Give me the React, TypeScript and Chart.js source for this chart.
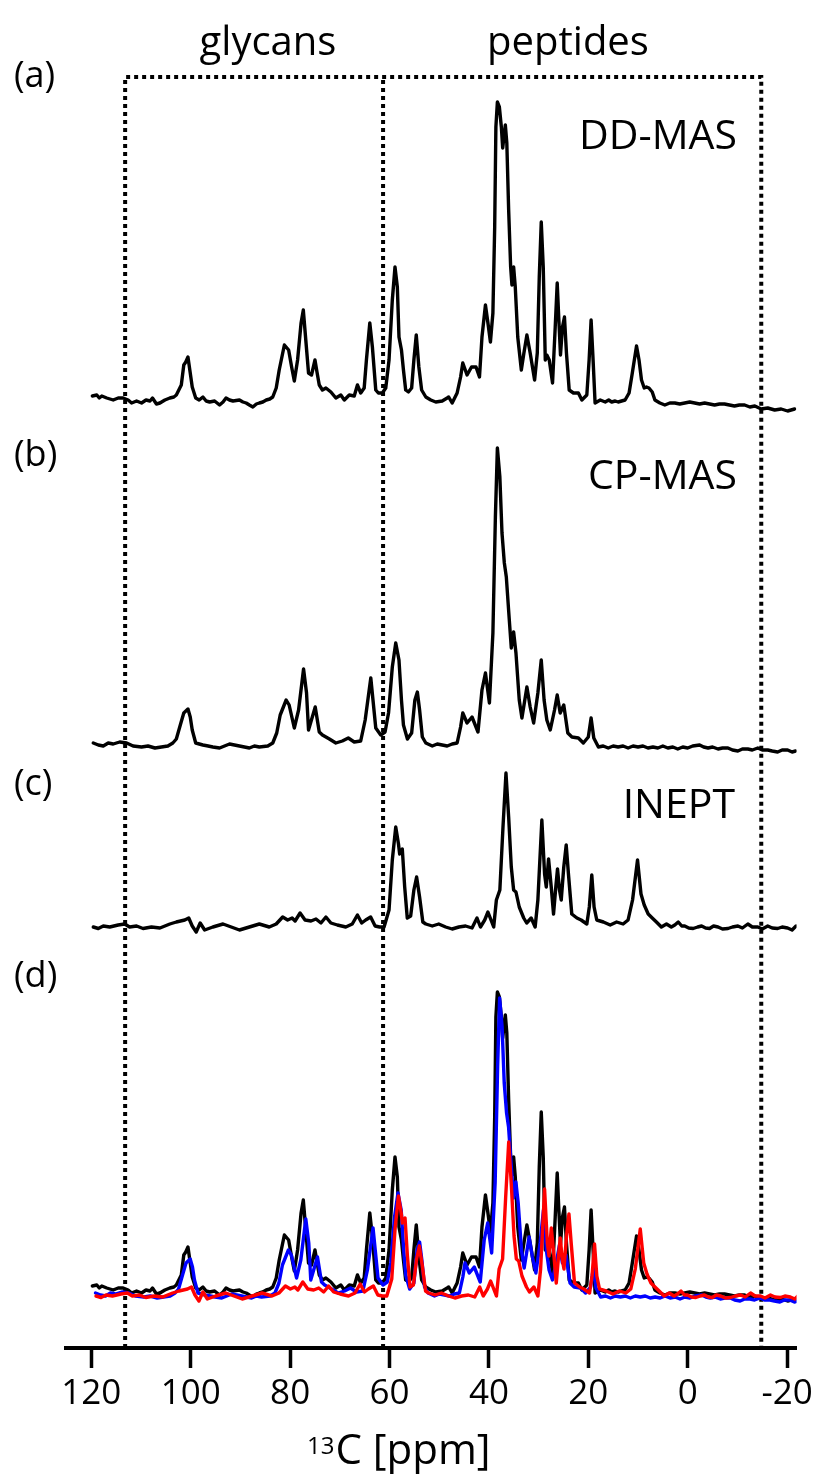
import { useEffect, useRef } from "react";
import { Chart, registerables } from "chart.js";

Chart.register(...registerables);

// ---------- axis ----------
const X_TICKS = [120, 100, 80, 60, 40, 20, 0, -20];
const X_MIN = -21.9;
const X_MAX = 125.1;
const Y_MAX = 1348;

// dotted frame (ppm positions) and its top level
const FRAME_OUTER_PPM = [113.2, -14.8];
const FRAME_MIDDLE_PPM = 61.3;
const FRAME_TOP = 1271;

// ---------- texts ----------
const PANEL_LABELS = ["(a)", "(b)", "(c)", "(d)"];
const EXPERIMENTS = ["DD-MAS", "CP-MAS", "INEPT"];
const REGIONS = ["glycans", "peptides"];
const AXIS_TITLE_SUP = "13";
const AXIS_TITLE = "C [ppm]";

// ---------- spectra: [ppm, intensity] ----------
const DD_MAS: [number, number][] = [
  [119.8, 4], [118.9, 5], [118.4, 2], [117.9, 4], [116.9, 2], [115.6, 0], [114.6, 2], [113.6, 2], [112.6, 0], [111.9, -3],
  [110.9, -1], [109.9, -3], [109.0, 0], [108.2, -1], [107.7, 2], [106.9, -4], [106.2, -3], [105.2, 0], [104.2, 2], [103.4, 3],
  [102.9, 5], [101.9, 15], [101.4, 35], [101.0, 38], [100.56, 43], [100.1, 27], [99.7, 13], [99.0, 2], [98.3, 0], [97.55, 3],
  [96.9, -1], [96.2, -2], [95.2, -1], [94.2, -5], [93.5, -2], [92.9, 2], [92.2, 0], [91.5, -1], [90.2, 0], [89.5, -2],
  [88.85, -3], [88.2, -5], [87.5, -7], [86.8, -4], [86.2, -3], [85.5, -2], [84.8, 0], [84.1, 1], [83.5, 3], [82.8, 12],
  [82.2, 30], [81.16, 55], [80.3, 50], [79.7, 33], [79.16, 19], [78.5, 40], [77.8, 77], [77.35, 90], [76.8, 57], [76.3, 27],
  [75.7, 25], [75.0, 40], [74.6, 28], [74.14, 15], [73.5, 10], [72.8, 12], [71.8, 8], [70.8, 2], [69.8, 5], [69.1, 0],
  [68.1, 5], [67.1, 4], [66.46, 15], [65.8, 7], [65.1, 12], [64.65, 40], [63.97, 77], [63.45, 53], [62.77, 10], [62.25, 7],
  [61.45, 7], [60.76, 12], [60.1, 40], [59.44, 100], [58.9, 133], [58.43, 113], [58.1, 63], [57.6, 50], [57.2, 30], [56.75, 10],
  [56.2, 8], [55.55, 12], [55.1, 40], [54.62, 65], [54.1, 33], [53.54, 10], [52.7, 3], [51.7, 0], [50.7, -2], [49.4, -1],
  [48.4, 2], [48.1, 3], [47.4, -3], [46.4, 7], [45.7, 23], [45.26, 37], [44.4, 25], [43.5, 33], [42.6, 33], [41.9, 23],
  [41.4, 63], [40.7, 95], [40.2, 77], [39.7, 58], [39.2, 87], [38.84, 173], [38.6, 273], [38.3, 298], [37.9, 293], [37.5, 273],
  [37.23, 252], [36.7, 275], [36.4, 257], [36.03, 190], [35.63, 133], [35.37, 115], [35.03, 133], [34.7, 113], [34.2, 63], [33.48, 30],
  [32.96, 47], [32.36, 65], [31.7, 47], [30.81, 20], [30.27, 47], [29.87, 123], [29.47, 178], [29.07, 133], [28.66, 40], [28.35, 45],
  [27.86, 40], [27.2, 17], [26.66, 73], [26.26, 117], [25.93, 80], [25.6, 45], [25.2, 73], [24.8, 83], [24.4, 47], [23.85, 10],
  [23.0, 7], [22.0, 7], [21.3, 0], [20.3, 5], [19.84, 40], [19.44, 80], [19.04, 40], [18.64, -3], [17.6, 0], [16.6, -2],
  [15.9, 0], [15.3, -2], [14.6, -1], [14.0, -2], [13.3, -1], [12.6, 0], [11.8, 7], [11.15, 27], [10.3, 54], [9.8, 40],
  [9.3, 20], [8.75, 12], [8.3, 13], [7.8, 12], [7.14, 8], [6.6, 0], [5.6, -3], [4.6, -5], [3.6, -3], [2.6, -3],
  [1.6, -4], [0.6, -3], [-0.4, -2], [-1.4, -3], [-2.4, -4], [-3.4, -3], [-4.4, -4], [-5.4, -5], [-6.4, -4], [-7.4, -4],
  [-8.4, -5], [-9.4, -6], [-10.4, -5], [-11.45, -5], [-12.5, -7], [-13.5, -6], [-14.8, -9], [-16.1, -8], [-17.5, -10], [-18.8, -9],
  [-20.1, -11], [-21.5, -9],
];

const CP_MAS: [number, number][] = [
  [119.6, 2], [118.6, 0], [117.6, -1], [116.6, 2], [115.6, 1], [114.3, 3], [112.9, 2], [111.6, -1], [109.9, -2], [108.6, -1],
  [107.2, -3], [105.9, -2], [104.6, -1], [103.6, 2], [102.9, 6], [102.1, 20], [101.4, 32], [100.56, 36], [100.1, 28], [99.7, 15],
  [99.0, 2], [97.55, 0], [96.5, -1], [95.55, -2], [94.2, -3], [93.2, -1], [92.2, 1], [91.2, 0], [90.2, -1], [89.2, -2],
  [88.2, -3], [87.2, -1], [86.2, -2], [84.5, -1], [83.5, 2],
  [82.7, 12], [82.0, 30], [80.8, 45], [80.2, 40], [79.16, 17], [78.3, 35], [77.3, 76], [76.7, 52], [76.3, 15], [74.95, 38],
  [74.14, 13], [73.5, 10], [72.1, 6], [70.8, 2], [69.5, 4], [68.3, 7], [67.1, 3], [65.8, 4], [64.9, 25], [63.77, 67],
  [62.77, 17], [61.77, 10], [60.9, 13], [60.2, 32], [59.44, 78], [58.75, 102], [58.1, 85], [57.6, 45], [57.2, 20], [56.4, 6],
  [55.55, 12], [54.9, 45], [54.4, 53], [53.95, 35], [53.4, 8], [52.7, 2], [51.4, -1], [50.4, 1], [49.4, 0], [48.4, -1], [47.4, 1], [46.4, 2],
  [45.7, 18], [45.26, 32], [44.4, 22], [43.4, 28], [42.2, 13], [41.4, 55], [40.7, 72], [39.9, 42], [39.2, 112], [38.7, 228],
  [38.3, 297], [37.8, 268], [37.37, 212], [36.9, 182], [36.5, 168], [36.0, 132], [35.5, 97], [35.03, 113], [34.56, 92], [33.9, 45],
  [33.36, 27], [32.36, 58], [31.7, 38], [31.0, 22], [30.15, 52], [29.47, 85], [28.9, 45], [28.35, 25], [27.66, 15], [26.8, 35],
  [26.26, 50], [25.66, 32], [24.94, 40], [24.13, 12], [23.3, 8], [22.0, 7], [21.0, 2], [20.0, 8], [19.44, 27], [18.9, 7],
  [17.97, -2], [17.0, -1], [16.0, -3], [15.0, -1], [14.0, -2], [13.0, -1], [12.0, -3], [11.0, -1], [10.0, -2], [9.0, -1],
  [8.0, -3], [7.0, -2], [6.0, -3], [5.0, -1], [4.0, -3], [3.0, -2], [2.0, -4], [1.0, -2], [0.0, -3], [-1.0, -1],
  [-2.4, 0], [-3.2, -2], [-4.1, -3], [-5.0, -2], [-6.1, -4], [-7.0, -3], [-8.1, -3], [-9.0, -5], [-10.1, -6], [-11.0, -4],
  [-12.1, -4], [-13.0, -5], [-14.1, -3], [-15.0, -5], [-16.1, -5], [-17.0, -6], [-18.1, -7], [-19.0, -5], [-20.1, -5], [-21.0, -7],
  [-21.7, -6],
];

const INEPT: [number, number][] = [
  [119.6, 0], [118.6, -1.5], [117.6, 1], [116.3, 0], [114.6, 2], [113.3, 3], [112.3, 0], [110.9, 1], [109.6, -1.5], [107.9, 0],
  [106.2, -1], [104.2, 3], [102.9, 5], [101.2, 7], [100.4, 9], [99.7, 1], [98.9, -5], [98.1, 4], [97.2, -3], [95.55, 0],
  [93.5, 3], [91.85, 0], [90.2, -3], [88.2, 0], [86.2, 3], [84.2, 0], [82.8, 3], [81.5, 10], [80.5, 7], [79.6, 9],
  [79.0, 6], [78.0, 14], [77.0, 7], [75.8, 6], [74.8, 8], [73.8, 4], [72.8, 10], [71.8, 4], [70.5, 2], [68.8, 0],
  [67.5, 3], [66.46, 12], [65.6, 4], [64.8, 7], [63.8, 10], [62.9, 1], [62.0, 0], [61.1, 0], [60.1, 17], [59.44, 67],
  [58.75, 100], [58.2, 83], [57.96, 73], [57.43, 78], [56.95, 40], [56.43, 9], [55.75, 11], [55.1, 37], [54.55, 50], [53.95, 30],
  [53.3, 5], [52.7, 3], [51.4, 1], [50.1, 3], [48.7, 0], [47.4, -2], [46.05, 0], [44.7, 1], [43.4, -1], [42.4, 9],
  [41.7, 0], [40.85, 7], [40.2, 15], [39.04, 0], [38.5, 27], [37.8, 37], [37.17, 100], [36.57, 154], [36.03, 110], [35.5, 60],
  [35.03, 37], [34.56, 35], [33.9, 20], [33.0, 9], [32.4, 4], [31.5, 9], [30.7, 0], [30.15, 27], [29.35, 107], [28.8, 53],
  [28.46, 40], [28.0, 68], [27.46, 40], [27.0, 13], [26.54, 40], [26.2, 58], [25.8, 37], [25.45, 27], [24.94, 60], [24.45, 82],
  [24.0, 53], [23.33, 13], [22.3, 9], [21.45, 7], [20.3, 3], [19.8, 20], [19.3, 52], [18.84, 20], [18.3, 7], [16.97, 5],
  [15.6, 2], [14.3, 5], [13.0, 3], [12.0, 7], [11.1, 27], [10.1, 67], [9.4, 33], [8.75, 22], [7.95, 13], [7.14, 9],
  [6.3, 5], [5.3, 0], [4.27, 3], [3.3, 0], [2.6, 2], [1.9, 5], [1.2, 1], [0.6, 1], [-0.2, -1], [-1.1, -1.5],
  [-2.0, 0], [-2.8, 1], [-3.6, -1], [-4.4, -1.5], [-5.2, 1], [-6.1, 0], [-7.0, -2], [-8.1, -1.5], [-9.0, 0], [-10.1, 1],
  [-11.0, -1], [-12.1, 3], [-13.0, 0], [-14.1, 0], [-15.0, -2], [-16.1, 1], [-17.0, -1], [-18.1, -1.5], [-19.0, 0], [-20.1, -1],
  [-21.0, -3], [-21.8, 1],
];

// ---------- layout / style (not data) ----------
const OFFSET_A = 948;
const OFFSET_B = 603;
const OFFSET_C = 421;
const OFFSET_D_BLACK = 58;
const OFFSET_D_BLUE = 53;
const OFFSET_D_RED = 52;
const SHIFT_D_BLUE = -0.45;
const SHIFT_D_RED = -0.55;

const TEXT_FONT = '"Open Sans", "Noto Sans", sans-serif';
const TICK_FONT = '"Open Sans", "Noto Sans", sans-serif';

function toPoints(spec: [number, number][], offset: number, shift = 0) {
  return spec.map(([p, v]) => ({ x: p + shift, y: v + offset }));
}

function spectrumDataset(spec: [number, number][], offset: number, color: string, order: number, shift = 0) {
  return {
    data: toPoints(spec, offset, shift),
    borderColor: color,
    borderWidth: 3.4,
    pointRadius: 0,
    fill: false,
    tension: 0,
    borderJoinStyle: "round" as const,
    borderCapStyle: "round" as const,
    order,
  };
}

const textPlugin = {
  id: "figureText",
  afterDraw(chart: any) {
    const ctx = chart.ctx as CanvasRenderingContext2D;
    ctx.save();
    ctx.fillStyle = "#000";
    ctx.textBaseline = "alphabetic";

    // region headers
    ctx.font = `40px ${TEXT_FONT}`;
    ctx.textAlign = "center";
    ctx.fillText(REGIONS[0], 268, 55);
    ctx.fillText(REGIONS[1], 568, 55);

    // panel letters
    ctx.font = `36px ${TEXT_FONT}`;
    ctx.textAlign = "left";
    const panelY = [87, 466, 795, 987];
    PANEL_LABELS.forEach((t, i) => ctx.fillText(t, 14, panelY[i]));

    // experiment names
    ctx.font = `41px ${TEXT_FONT}`;
    ctx.textAlign = "right";
    ctx.fillText(EXPERIMENTS[0], 737, 149);
    ctx.fillText(EXPERIMENTS[1], 737, 489);
    ctx.fillText(EXPERIMENTS[2], 735, 818);

    // axis title with superscript
    ctx.textAlign = "left";
    ctx.font = `24px ${TEXT_FONT}`;
    ctx.fillText(AXIS_TITLE_SUP, 307, 1454);
    const supW = ctx.measureText(AXIS_TITLE_SUP).width;
    ctx.font = `42px ${TEXT_FONT}`;
    ctx.fillText(AXIS_TITLE, 307 + supW + 1, 1464);
    ctx.restore();
  },
};

export default function App() {
  const ref = useRef<HTMLCanvasElement>(null);

  useEffect(() => {
    const canvas = ref.current;
    if (!canvas) return;

    const frameDash = {
      borderColor: "#000",
      borderWidth: 4,
      borderDash: [4, 4],
      borderCapStyle: "butt" as const,
      pointRadius: 0,
      fill: false,
      tension: 0,
      order: 20,
    };

    const datasets: any[] = [
      {
        ...frameDash,
        data: [
          { x: FRAME_OUTER_PPM[0], y: 0 },
          { x: FRAME_OUTER_PPM[0], y: FRAME_TOP },
          { x: FRAME_OUTER_PPM[1], y: FRAME_TOP },
          { x: FRAME_OUTER_PPM[1], y: 0 },
        ],
      },
      {
        ...frameDash,
        data: [
          { x: FRAME_MIDDLE_PPM, y: 0 },
          { x: FRAME_MIDDLE_PPM, y: FRAME_TOP },
        ],
      },
      spectrumDataset(DD_MAS, OFFSET_A, "#000", 5),
      spectrumDataset(CP_MAS, OFFSET_B, "#000", 5),
      spectrumDataset(INEPT, OFFSET_C, "#000", 5),
      spectrumDataset(DD_MAS, OFFSET_D_BLACK, "#000", 3),
      spectrumDataset(CP_MAS, OFFSET_D_BLUE, "#0000ff", 2, SHIFT_D_BLUE),
      spectrumDataset(INEPT, OFFSET_D_RED, "#ff0000", 1, SHIFT_D_RED),
    ];

    const chart = new Chart(canvas, {
      type: "line",
      data: { datasets },
      options: {
        animation: false,
        responsive: false,
        events: [],
        layout: { padding: { left: 66, right: 19, top: 0, bottom: 0 } },
        plugins: { legend: { display: false }, tooltip: { enabled: false } },
        scales: {
          x: {
            type: "linear",
            reverse: true,
            min: X_MIN,
            max: X_MAX,
            afterBuildTicks: (s: any) => {
              s.ticks = X_TICKS.map((v) => ({ value: v }));
            },
            afterFit: (s: any) => {
              s.height = 130;
            },
            grid: {
              display: true,
              drawOnChartArea: false,
              drawTicks: true,
              tickLength: 20,
              tickWidth: 3.5,
              tickColor: "#000",
            },
            border: { display: true, color: "#000", width: 4 },
            ticks: {
              color: "#000",
              padding: 5,
              maxRotation: 0,
              autoSkip: false,
              font: { family: TICK_FONT, size: 35 },
              callback: (v: any) => String(v),
            },
          },
          y: { display: false, min: 0, max: Y_MAX },
        },
      } as any,
      plugins: [textPlugin],
    });

    return () => chart.destroy();
  }, []);

  return (
    <div style={{ position: "absolute", left: 0, top: 0, width: 818, height: 1478, background: "#fff" }}>
      <canvas ref={ref} width={818} height={1478} style={{ display: "block", width: 818, height: 1478 }} />
    </div>
  );
}
